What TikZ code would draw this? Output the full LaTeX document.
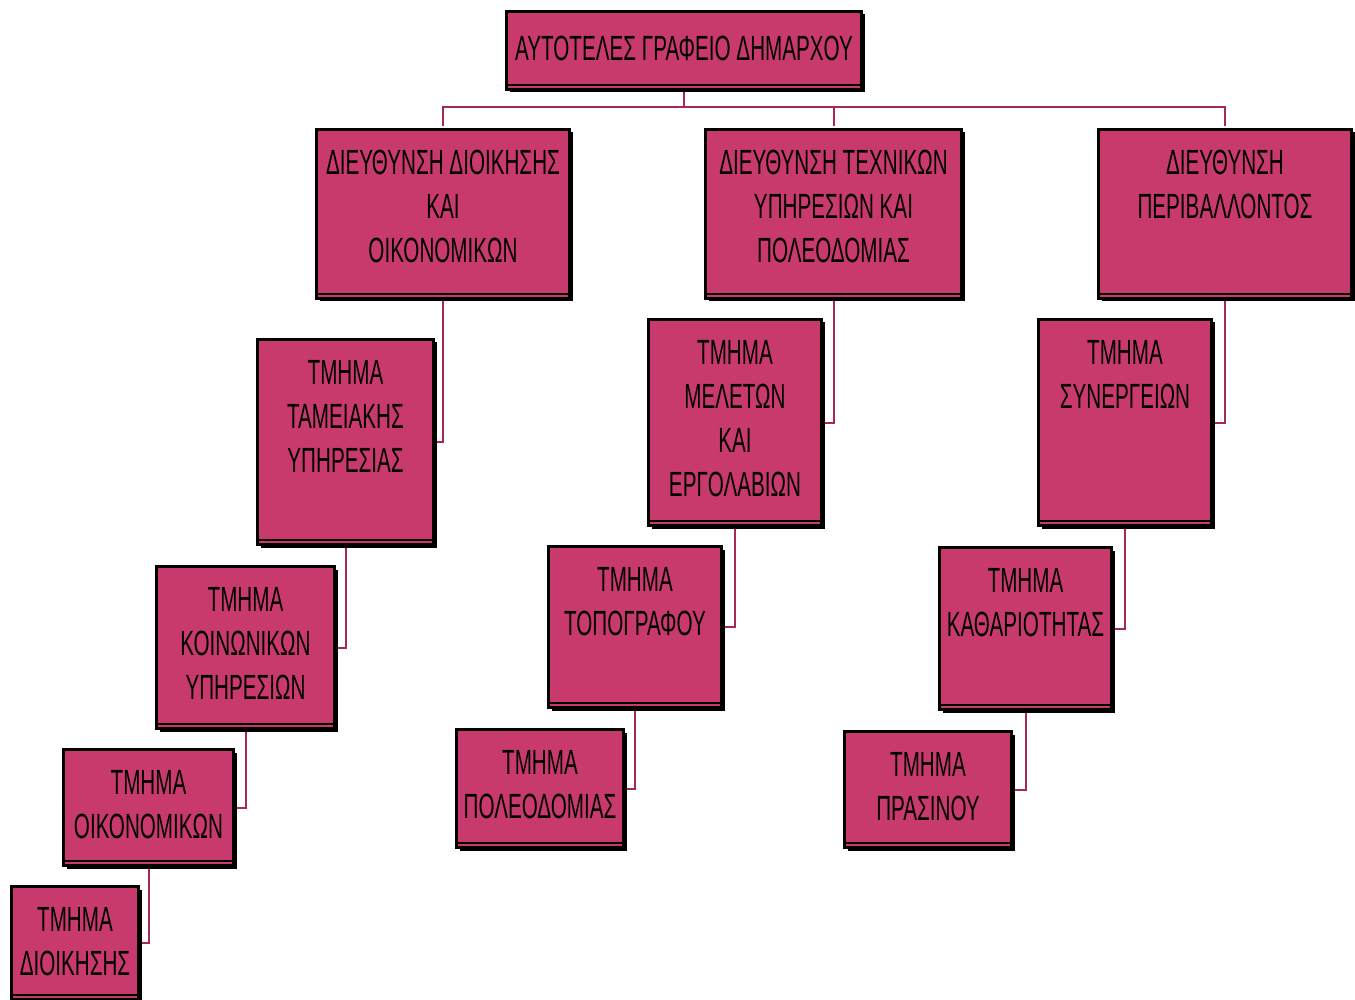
\documentclass[tikz,border=0pt]{standalone}
\usepackage{fontspec}
\setmainfont[FakeStretch=0.59]{Liberation Sans}
\usetikzlibrary{shadows}
\definecolor{boxpink}{RGB}{200,58,110}
\definecolor{linkpink}{RGB}{165,40,88}
\tikzset{
  orgbox/.style={draw=black, fill=boxpink, line width=3pt, inner sep=0pt, anchor=north west,
    drop shadow={shadow xshift=3pt, shadow yshift=-3pt, fill=black, opacity=1}},
  boxtext/.style={inner sep=0pt, align=center, anchor=north, font=\fontsize{35}{44}\selectfont},
  link/.style={draw=linkpink, line width=2pt}
}
\newcommand{\orgnode}[6]{%
  \node[orgbox, minimum width=#4pt, minimum height=#5pt] (#1) at (#2,#3) {};
  \draw[line width=1.6pt] ([xshift=1.5pt,yshift=6pt]#1.south west) -- ([xshift=-1.5pt,yshift=6pt]#1.south east);
  \node[boxtext] (#1t) at ([yshift=-22pt]#1.north) {#6};
}
\begin{document}
\begin{tikzpicture}[x=1pt,y=-1pt]
\useasboundingbox[fill=white] (0,0) rectangle (1355,1000);

% top box
\node[orgbox, minimum width=355pt, minimum height=78pt] (top) at (505,10) {};
\draw[line width=1.6pt] ([xshift=1.5pt,yshift=6pt]top.south west) -- ([xshift=-1.5pt,yshift=6pt]top.south east);
\node[boxtext, anchor=center] (topt) at ([yshift=2pt]top.center) {ΑΥΤΟΤΕΛΕΣ ΓΡΑΦΕΙΟ ΔΗΜΑΡΧΟΥ};

% directorates
\orgnode{d1}{315}{128}{253}{169}{ΔΙΕΥΘΥΝΣΗ ΔΙΟΙΚΗΣΗΣ\\ΚΑΙ\\ΟΙΚΟΝΟΜΙΚΩΝ}
\orgnode{d2}{704}{128}{256}{169}{ΔΙΕΥΘΥΝΣΗ ΤΕΧΝΙΚΩΝ\\ΥΠΗΡΕΣΙΩΝ ΚΑΙ\\ΠΟΛΕΟΔΟΜΙΑΣ}
\orgnode{d3}{1097}{128}{253}{169}{ΔΙΕΥΘΥΝΣΗ\\ΠΕΡΙΒΑΛΛΟΝΤΟΣ}

% column 1
\orgnode{t1}{256}{338}{176}{205}{ΤΜΗΜΑ\\ΤΑΜΕΙΑΚΗΣ\\ΥΠΗΡΕΣΙΑΣ}
\orgnode{t2}{155}{565}{178}{162}{ΤΜΗΜΑ\\ΚΟΙΝΩΝΙΚΩΝ\\ΥΠΗΡΕΣΙΩΝ}
\orgnode{t3}{62}{748}{170}{116}{ΤΜΗΜΑ\\ΟΙΚΟΝΟΜΙΚΩΝ}
\orgnode{t4}{10}{885}{127}{113}{ΤΜΗΜΑ\\ΔΙΟΙΚΗΣΗΣ}

% column 2
\orgnode{m1}{647}{318}{173}{206}{ΤΜΗΜΑ\\ΜΕΛΕΤΩΝ\\ΚΑΙ\\ΕΡΓΟΛΑΒΙΩΝ}
\orgnode{m2}{547}{545}{173}{161}{ΤΜΗΜΑ\\ΤΟΠΟΓΡΑΦΟΥ}
\orgnode{m3}{455}{728}{167}{118}{ΤΜΗΜΑ\\ΠΟΛΕΟΔΟΜΙΑΣ}

% column 3
\orgnode{s1}{1037}{318}{173}{206}{ΤΜΗΜΑ\\ΣΥΝΕΡΓΕΙΩΝ}
\orgnode{s2}{938}{546}{172}{162}{ΤΜΗΜΑ\\ΚΑΘΑΡΙΟΤΗΤΑΣ}
\orgnode{s3}{843}{730}{167}{116}{ΤΜΗΜΑ\\ΠΡΑΣΙΝΟΥ}

% connectors
\begin{scope}[on background layer/.style={}]
\coordinate (bus) at (top.south |- 0,107);
\draw[link] ([yshift=-1.5pt]top.south) -- (bus);
\draw[link] (bus) -| ([yshift=1.5pt]d1.north);
\draw[link] (bus) -| ([yshift=1.5pt]d2.north);
\draw[link] (bus) -| ([yshift=1.5pt]d3.north);
\draw[link] ([yshift=-1.5pt]d1.south) |- ([xshift=1.5pt]t1.east);
\draw[link] ([yshift=-1.5pt]t1.south) |- ([xshift=1.5pt]t2.east);
\draw[link] ([yshift=-1.5pt]t2.south) |- ([xshift=1.5pt]t3.east);
\draw[link] ([yshift=-1.5pt]t3.south) |- ([xshift=1.5pt]t4.east);
\draw[link] ([yshift=-1.5pt]d2.south) |- ([xshift=1.5pt]m1.east);
\draw[link] ([yshift=-1.5pt]m1.south) |- ([xshift=1.5pt]m2.east);
\draw[link] ([yshift=-1.5pt]m2.south) |- ([xshift=1.5pt]m3.east);
\draw[link] ([yshift=-1.5pt]d3.south) |- ([xshift=1.5pt]s1.east);
\draw[link] ([yshift=-1.5pt]s1.south) |- ([xshift=1.5pt]s2.east);
\draw[link] ([yshift=-1.5pt]s2.south) |- ([xshift=1.5pt]s3.east);
\end{scope}
\end{tikzpicture}
\end{document}
